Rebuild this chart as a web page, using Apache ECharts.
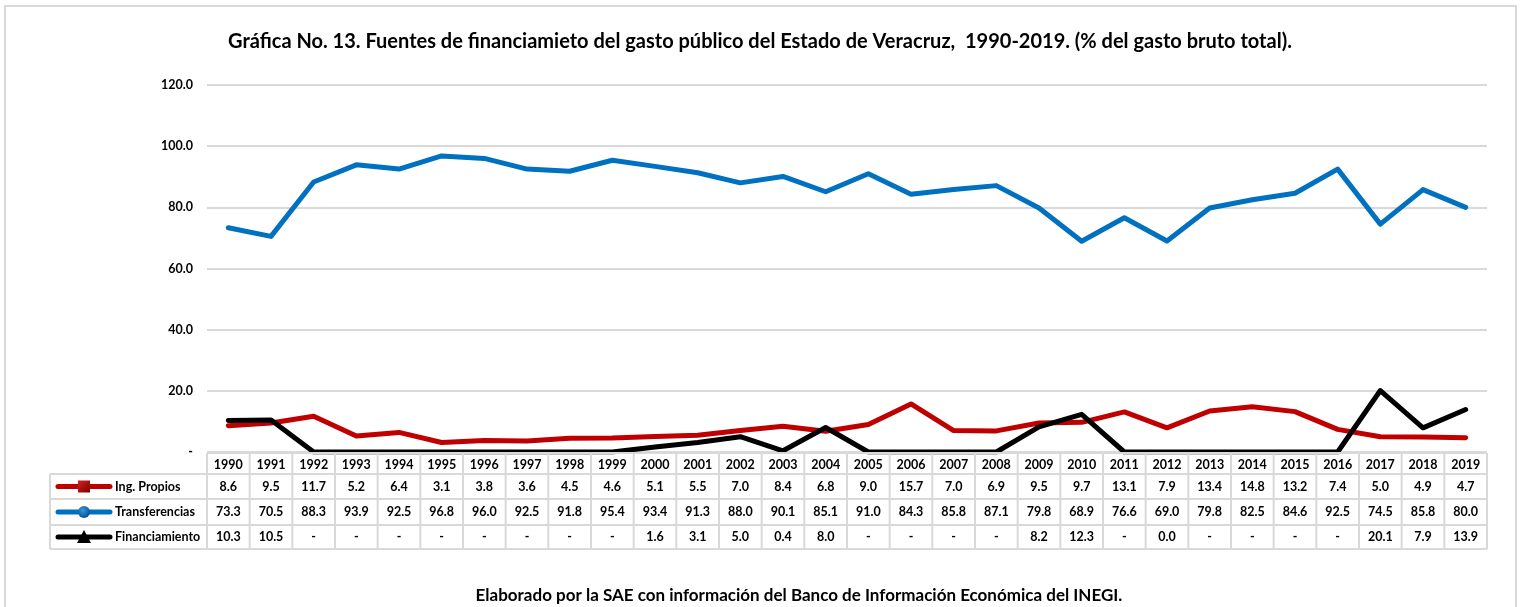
<!DOCTYPE html>
<html><head><meta charset="utf-8">
<script src="https://cdn.jsdelivr.net/npm/echarts@6/dist/echarts.min.js"></script>
<style>html,body{margin:0;padding:0;background:#fff}#c{width:1520px;height:607px}</style>
</head><body><div id="c"></div>
<script>
const years = ['1990','1991','1992','1993','1994','1995','1996','1997','1998','1999','2000','2001','2002','2003','2004','2005','2006','2007','2008','2009','2010','2011','2012','2013','2014','2015','2016','2017','2018','2019'];
const ingPropios = [8.6,9.5,11.7,5.2,6.4,3.1,3.8,3.6,4.5,4.6,5.1,5.5,7.0,8.4,6.8,9.0,15.7,7.0,6.9,9.5,9.7,13.1,7.9,13.4,14.8,13.2,7.4,5.0,4.9,4.7];
const transferencias = [73.3,70.5,88.3,93.9,92.5,96.8,96.0,92.5,91.8,95.4,93.4,91.3,88.0,90.1,85.1,91.0,84.3,85.8,87.1,79.8,68.9,76.6,69.0,79.8,82.5,84.6,92.5,74.5,85.8,80.0];
const financiamiento = [10.3,10.5,null,null,null,null,null,null,null,null,1.6,3.1,5.0,0.4,8.0,null,null,null,null,8.2,12.3,null,0.0,null,null,null,null,20.1,7.9,13.9];
const seriesNames = ['Ing. Propios','Transferencias','Financiamiento'];
const seriesColors = ['#c00000','#0070c0','#000000'];
const titleText = 'Gráfica No. 13. Fuentes de financiamieto del gasto público del Estado de Veracruz,  1990-2019. (% del gasto bruto total).';
const footText = 'Elaborado por la SAE con información del Banco de Información Económica del INEGI.';

const FONT = 'Lato, "Open Sans", sans-serif';
const chart = echarts.init(document.getElementById('c'), null, {renderer:'canvas'});
const plotVals = financiamiento.map(v => v == null ? 0 : v);
const lineStyle = c => ({color:c, width:5, cap:'round', join:'round'});

chart.setOption({
  animation:false,
  backgroundColor:'#fff',
  title:{text:titleText, left:'center', top:27,
    textStyle:{fontFamily:FONT, fontWeight:'bold', fontSize:20, color:'#000'}},
  grid:{left:207, right:33, top:85, bottom:155, containLabel:false},
  xAxis:{type:'category', data:years, boundaryGap:true,
    axisLine:{show:false}, axisTick:{show:false}, axisLabel:{show:false}},
  yAxis:{type:'value', min:0, max:120, interval:20,
    axisLine:{show:false}, axisTick:{show:false},
    splitLine:{lineStyle:{color:'#d9d9d9', width:2}},
    axisLabel:{margin:14, fontFamily:FONT, fontWeight:'bold', fontSize:12.5, color:'#000',
      formatter:v => v === 0 ? '-' : v.toFixed(1)}},
  series:[
    {name:seriesNames[0], type:'line', data:ingPropios, showSymbol:false, symbol:'none', lineStyle:lineStyle(seriesColors[0]), z:2},
    {name:seriesNames[1], type:'line', data:transferencias, showSymbol:false, symbol:'none', lineStyle:lineStyle(seriesColors[1]), z:2},
    {name:seriesNames[2], type:'line', data:plotVals, showSymbol:false, symbol:'none', lineStyle:lineStyle(seriesColors[2]), z:3}
  ]
});

// Data table built from axis positions
const cx = years.map((y,i) => chart.convertToPixel({xAxisIndex:0}, i));
const bw = cx[1] - cx[0];
const xL = cx[0] - bw/2, xR = cx[cx.length-1] + bw/2;
const y0 = chart.convertToPixel({yAxisIndex:0}, 0) + 1;
const rowsY = [y0, y0+21, y0+46, y0+72, y0+96];
const legL = 50;
const border = {stroke:'#d9d9d9', lineWidth:2};
const els = [];
// frame
els.push({type:'rect', shape:{x:5, y:6, width:1511, height:700}, style:{fill:null, stroke:'#d9d9d9', lineWidth:2}, silent:true, z:0});
// horizontal lines
rowsY.forEach((y,i) => {
  els.push({type:'line', shape:{x1: i===0 ? xL : legL, y1:y, x2:xR, y2:y}, style:border, z:5});
});
// vertical lines
for (let i=0;i<=years.length;i++){
  const x = xL + i*bw;
  els.push({type:'line', shape:{x1:x, y1:rowsY[0], x2:x, y2:rowsY[4]}, style:border, z:5});
}
els.push({type:'line', shape:{x1:legL, y1:rowsY[1], x2:legL, y2:rowsY[4]}, style:border, z:5});
const cellText = (x,y,t,align) => ({type:'text', x:x, y:y, z:6,
  style:{text:t, fill:'#000', font:'bold 12.5px ' + FONT, align:align||'center', verticalAlign:'middle'}});
// header years
years.forEach((yr,i) => els.push(cellText(cx[i], (rowsY[0]+rowsY[1])/2+1, yr)));
const rows = [ingPropios, transferencias, financiamiento];
rows.forEach((arr,r) => {
  const yc = (rowsY[r+1]+rowsY[r+2])/2;
  arr.forEach((v,i) => els.push(cellText(cx[i], yc, v == null ? '-' : v.toFixed(1))));
  // legend key
  els.push({type:'line', shape:{x1:58, y1:yc, x2:110, y2:yc}, style:{stroke:seriesColors[r], lineWidth:5, lineCap:'round'}, z:6});
  if (r===0) els.push({type:'rect', shape:{x:78, y:yc-6, width:12, height:12}, style:{fill:{type:'linear',x:0,y:0,x2:1,y2:1,colorStops:[{offset:0,color:'#d42020'},{offset:1,color:'#7a0000'}]}}, z:7});
  if (r===1) els.push({type:'circle', shape:{cx:84, cy:yc, r:6}, style:{fill:{type:'radial',x:0.4,y:0.35,r:0.7,colorStops:[{offset:0,color:'#3a95e0'},{offset:1,color:'#004f8c'}]}}, z:7});
  if (r===2) els.push({type:'polygon', shape:{points:[[84,yc-7],[77,yc+6],[91,yc+6]]}, style:{fill:'#000'}, z:7});
  els.push(cellText(115, yc, seriesNames[r], 'left'));
});
// footnote
els.push({type:'text', x:799, y:596, z:6, style:{text:footText, fill:'#000', font:'bold 17px ' + FONT, align:'center', verticalAlign:'middle'}});
chart.setOption({graphic:{elements:els}});
</script>
</body></html>
